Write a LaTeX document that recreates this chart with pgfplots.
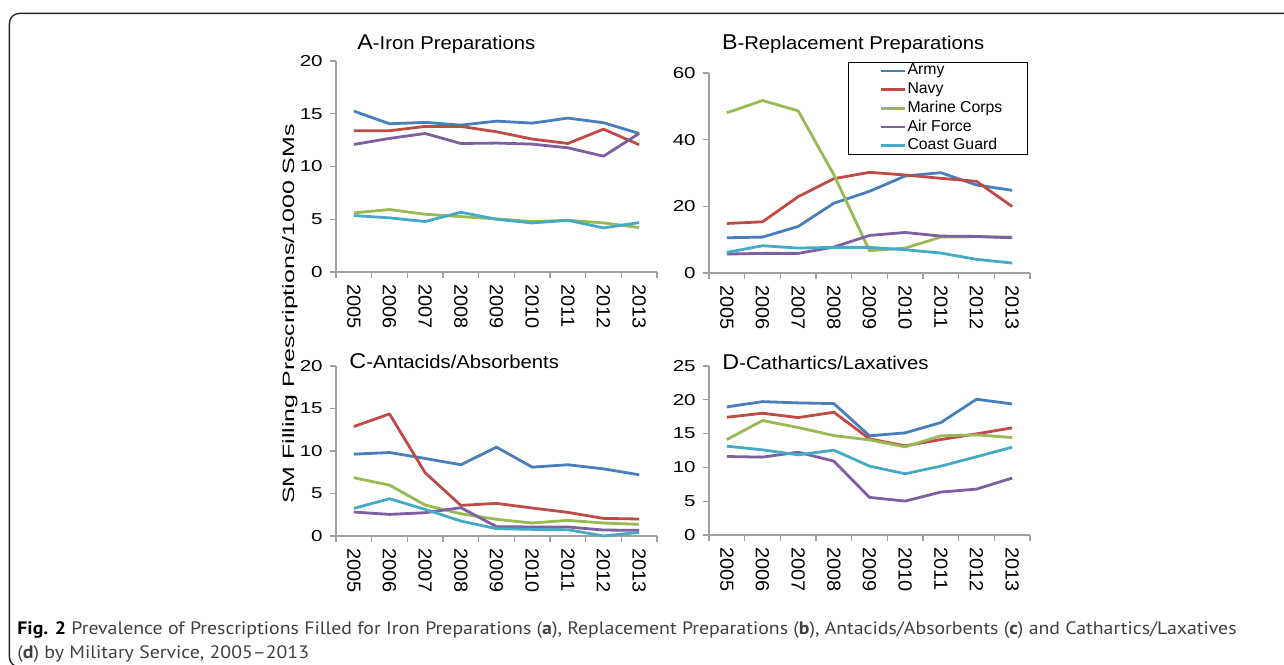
\documentclass[border=0pt]{standalone}
\usepackage{fontspec}
\setmainfont{Liberation Sans}
\usepackage{pgfplots}
\usepackage{pgfplotstable}
\pgfplotsset{compat=1.18}

\newfontfamily\ytfam[FakeStretch=1.3]{Liberation Sans}
\newfontfamily\xtfam[FakeStretch=1.05]{Liberation Sans}
\newfontfamily\ylfam[FakeStretch=1.52]{Liberation Sans}
\newfontfamily\ttfam[FakeStretch=1.09]{Liberation Sans}
\newfontfamily\capfam[FakeStretch=1.1]{PT Sans}
\newcommand\ytf{\ytfam\fontsize{7.9}{9}\selectfont}
\newcommand\xtf{\xtfam\fontsize{9.5}{10}\selectfont}
\newcommand\ylf{\ylfam\fontsize{8.2}{10}\selectfont}
\newcommand\ttf{\ttfam\fontsize{9.3}{11}\selectfont}
\newcommand\ttbig{\fontsize{10.7}{11}\selectfont}
\newcommand\lgf{\fontsize{7.9}{9}\selectfont}
\newcommand\capf{\capfam\fontsize{9}{11}\selectfont}

\definecolor{army}{HTML}{4A7EBB}
\definecolor{navy}{HTML}{BE4B48}
\definecolor{marine}{HTML}{98B954}
\definecolor{airforce}{HTML}{7D60A0}
\definecolor{coast}{HTML}{46AAC5}
\definecolor{axisgray}{HTML}{A0A0A0}
\definecolor{captext}{HTML}{404040}

% values per 1000 service members, years 2005..2013 at x = 1..9
\pgfplotstableread{
x army navy marine air coast
1 15.25 13.39 5.60 12.09 5.35
2 14.05 13.39 5.92 12.66 5.13
3 14.18 13.80 5.47 13.13 4.78
4 13.92 13.80 5.25 12.18 5.66
5 14.30 13.29 5.03 12.22 5.00
6 14.11 12.60 4.78 12.12 4.65
7 14.59 12.18 4.90 11.77 4.90
8 14.15 13.54 4.65 10.98 4.18
9 13.13 12.06 4.21 13.13 4.68
}\iron
\pgfplotstableread{
x army navy marine air coast
1 10.57 14.86 48.06 5.68 6.18
2 10.77 15.35 51.75 5.88 8.18
3 13.96 22.90 48.65 5.88 7.48
4 20.94 28.30 29.50 7.78 7.68
5 24.50 30.20 6.68 11.27 7.68
6 29.10 29.40 7.48 12.16 6.98
7 30.10 28.40 10.77 11.07 5.98
8 26.40 27.50 10.87 10.97 4.09
9 24.80 19.94 10.77 10.57 2.99
}\repl
\pgfplotstableread{
x army navy marine air coast
1 9.63 12.88 6.85 2.82 3.25
2 9.82 14.36 5.99 2.54 4.38
3 9.12 7.44 3.64 2.74 3.13
4 8.38 3.60 2.62 3.33 1.76
5 10.45 3.84 1.96 1.10 0.86
6 8.10 3.29 1.53 1.06 0.78
7 8.38 2.78 1.84 1.06 0.74
8 7.90 2.07 1.53 0.70 0.00
9 7.20 2.00 1.37 0.67 0.43
}\antacid
\pgfplotstableread{
x army navy marine air coast
1 18.95 17.42 14.12 11.61 13.14
2 19.73 18.01 16.93 11.52 12.60
3 19.54 17.37 15.90 12.25 11.86
4 19.44 18.16 14.71 10.93 12.55
5 14.67 14.22 14.07 5.56 10.19
6 15.11 13.19 13.04 5.02 9.06
7 16.63 14.12 14.67 6.35 10.19
8 20.08 14.96 14.81 6.79 11.57
9 19.39 15.85 14.42 8.42 12.99
}\cath

\pgfplotsset{
  panel/.style={
    scale only axis, width=160.5pt, anchor=south west,
    xmin=0.5, xmax=9.5, ymin=0,
    axis lines*=left,
    axis line style={draw=axisgray, line width=0.6pt, -},
    tick align=outside, major tick length=3pt,
    tick style={draw=axisgray, line width=0.6pt},
    xtick={0.5,1.5,...,9.5}, xticklabels={},
    extra x ticks={1,2,3,4,5,6,7,8,9},
    extra x tick labels={2005,2006,2007,2008,2009,2010,2011,2012,2013},
    extra x tick style={major tick length=0pt,
      tick label style={font=\xtf, rotate=-90, anchor=west, inner sep=0pt, xshift=6pt}},
    yticklabel style={font=\ytf, inner sep=0pt, xshift=-3.5pt},
    /pgf/number format/assume math mode=true,
    clip=false,
    every axis plot/.append style={line width=1.4pt, line join=round, mark=none},
  },
}

\begin{document}
\begin{tikzpicture}
\useasboundingbox (0,0) rectangle (642pt,332pt);
\draw[line width=0.7pt, black!85, rounded corners=5pt] (4.7pt,-1.5pt) rectangle (660pt,325.3pt);

% A
\begin{axis}[panel, at={(168pt,196pt)}, height=105.5pt, ymax=20, ytick={0,5,10,15,20}]
\addplot[army] table[x=x,y=army]{\iron};
\addplot[navy] table[x=x,y=navy]{\iron};
\addplot[marine] table[x=x,y=marine]{\iron};
\addplot[airforce] table[x=x,y=air]{\iron};
\addplot[coast] table[x=x,y=coast]{\iron};
\end{axis}

% B
\begin{axis}[panel, at={(354.5pt,195.5pt)}, height=100pt, ymax=60, ytick={0,20,40,60},
  legend style={at={(0.994,1.055)}, anchor=north east, draw=black, line width=0.5pt,
    font=\lgf, inner xsep=12pt, inner ysep=0pt, row sep=0.95pt,
    nodes={inner sep=0.6pt, text height=5.6pt, text depth=1.6pt}},
  legend cell align=left,
  legend image code/.code={\path (0pt,0pt); \draw[#1, line width=1.4pt] (3.5pt,0pt) -- (15.5pt,0pt);}]
\addplot[army] table[x=x,y=army]{\repl};
\addplot[navy] table[x=x,y=navy]{\repl};
\addplot[marine] table[x=x,y=marine]{\repl};
\addplot[airforce] table[x=x,y=air]{\repl};
\addplot[coast] table[x=x,y=coast]{\repl};
\legend{Army, Navy, Marine Corps, Air Force, Coast Guard}
\end{axis}

% C
\begin{axis}[panel, at={(168pt,64pt)}, height=85pt, ymax=20, ytick={0,5,10,15,20}]
\addplot[army] table[x=x,y=army]{\antacid};
\addplot[navy] table[x=x,y=navy]{\antacid};
\addplot[marine] table[x=x,y=marine]{\antacid};
\addplot[airforce] table[x=x,y=air]{\antacid};
\addplot[coast] table[x=x,y=coast]{\antacid};
\end{axis}

% D
\begin{axis}[panel, at={(354.5pt,64.5pt)}, height=84.5pt, ymax=25, ytick={0,5,10,15,20,25}]
\addplot[army] table[x=x,y=army]{\cath};
\addplot[navy] table[x=x,y=navy]{\cath};
\addplot[marine] table[x=x,y=marine]{\cath};
\addplot[airforce] table[x=x,y=air]{\cath};
\addplot[coast] table[x=x,y=coast]{\cath};
\end{axis}

\node[anchor=base west, inner sep=0pt, font=\ttf] at (178.5pt,307pt) {{\ttbig A}-Iron Preparations};
\node[anchor=base west, inner sep=0pt, font=\ttf] at (360.8pt,307.3pt) {{\ttbig B}-Replacement Preparations};
\node[anchor=base west, inner sep=0pt, font=\ttf] at (174.5pt,147.8pt) {{\ttbig C}-Antacids/Absorbents};
\node[anchor=base west, inner sep=0pt, font=\ttf] at (361pt,147.3pt) {{\ttbig D}-Cathartics/Laxatives};
\node[rotate=90, inner sep=0pt, font=\ylf] at (145pt,175pt) {SM Filling Prescriptions/1000 SMs};

\node[anchor=base west, inner sep=0pt, font=\capf, text=captext] at (8.5pt,15pt)
  {\textbf{\color{black}Fig. 2} Prevalence of Prescriptions Filled for Iron Preparations (\textbf{a}), Replacement Preparations (\textbf{b}), Antacids/Absorbents (\textbf{c}) and Cathartics/Laxatives};
\node[anchor=base west, inner sep=0pt, font=\capf, text=captext] at (8.5pt,3pt)
  {(\textbf{d}) by Military Service, 2005–2013};
\end{tikzpicture}
\end{document}
